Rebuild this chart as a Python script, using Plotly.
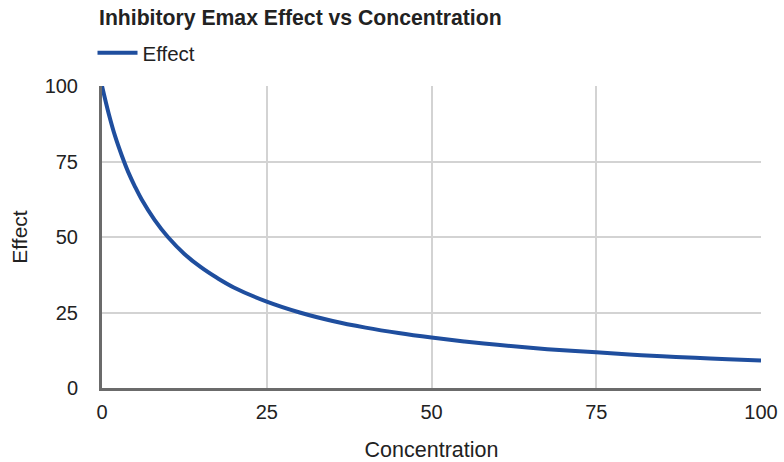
import plotly.graph_objects as go

concentration = [0, 1, 2, 3, 4, 5, 6, 8, 10, 12.5, 15, 17.5, 20, 25, 30, 35, 40, 45,
                 50, 55, 60, 65, 70, 75, 80, 85, 90, 95, 100]
effect = [100, 91, 83.3, 77, 71.4, 66.7, 62.5, 55.6, 50, 44.4, 40, 36.4, 33.3, 28.6,
          25, 22.2, 20, 18.2, 16.7, 15.4, 14.3, 13.3, 12.5, 11.8, 11.1, 10.5, 10, 9.5, 9.1]
x_ticks = [0, 25, 50, 75, 100]
y_ticks = [0, 25, 50, 75, 100]

fig = go.Figure()
fig.add_trace(go.Scatter(
    x=concentration, y=effect, mode="lines", name="Effect",
    line=dict(color="#1f4e9e", width=4, shape="spline"),
))

font = "Liberation Sans, Arial, sans-serif"
fig.update_layout(
    width=784, height=462,
    margin=dict(l=102, r=23, t=86, b=74),
    paper_bgcolor="white", plot_bgcolor="white",
    font=dict(family=font, size=20, color="#222222"),
    showlegend=True,
    legend=dict(x=-0.0144, y=1.043, xanchor="left", yanchor="bottom",
                orientation="h", font=dict(size=20.5, color="#222222"),
                bgcolor="rgba(0,0,0,0)", itemwidth=40),
    annotations=[dict(text="<b>Inhibitory Emax Effect vs Concentration</b>",
                      xref="paper", yref="paper", x=-0.007, y=1.225,
                      xanchor="left", yanchor="middle", showarrow=False,
                      font=dict(size=21.2, color="#222222"))],
    xaxis=dict(range=[0, 100], tickvals=x_ticks, showgrid=True,
               gridcolor="#d3d3d3", gridwidth=2, zeroline=False,
               showline=True, linecolor="#6b6b6b", linewidth=3,
               ticks="", ticklabelstandoff=4, tickfont=dict(size=20),
               automargin=False,
               title=dict(text="Concentration", standoff=23, font=dict(size=21.5))),
    yaxis=dict(range=[0, 100], tickvals=y_ticks, showgrid=True,
               gridcolor="#d3d3d3", gridwidth=2, zeroline=False,
               showline=True, linecolor="#6b6b6b", linewidth=3,
               ticks="", ticklabelstandoff=17, tickfont=dict(size=20),
               automargin=False,
               title=dict(text="Effect", standoff=12, font=dict(size=21))),
)

fig.write_html("out.html", config={"displayModeBar": False},
               post_script="document.body.style.margin='0';")
